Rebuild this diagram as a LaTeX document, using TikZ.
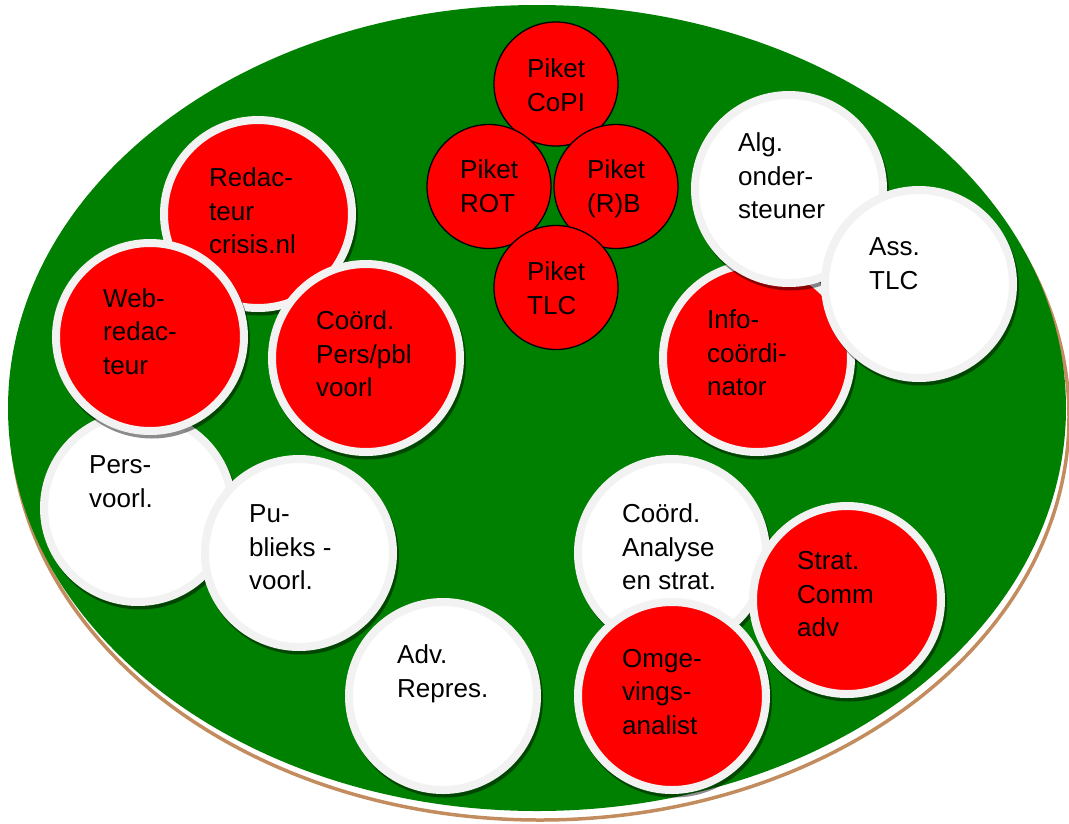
\documentclass[tikz,border=0pt]{standalone}
\usepackage{fontspec}
\setmainfont{Liberation Sans}
\definecolor{ellgreen}{RGB}{0,128,0}
\definecolor{ringc}{RGB}{242,242,242}
\definecolor{brownc}{RGB}{195,140,95}
\definecolor{redc}{RGB}{255,0,0}
\newcommand{\ringcirc}[4]{%
  \fill[shadowc] (#2+2,#3+3.5) circle[radius=98];
  \node[ring, fill=#4] (#1) at (#2,#3) {};
}
\begin{document}
\begin{tikzpicture}[x=1pt,y=-1pt,
  shadowc/.style={fill=black, opacity=0.45},
  ring/.style={circle, draw=ringc, line width=8pt, minimum size=188pt, inner sep=0pt},
  piket/.style={circle, draw=black, line width=1.3pt, fill=redc, minimum size=124pt, inner sep=0pt},
  lbl/.style={font=\fontsize{26}{33.7}\selectfont, align=left, inner sep=0pt, anchor=west, text=black}]
\useasboundingbox (0,0) rectangle (1069,823);
% ellipse with offset brown outline
\draw[brownc, line width=3.5pt] (540,417) ellipse [x radius=529, y radius=403];
\fill[ellgreen] (537,408) ellipse [x radius=529, y radius=403];
% piket circles
\node[piket] (copi) at (556,84) {};
\node[piket] (rot) at (489,186.5) {};
\node[piket] (rb) at (616,186.5) {};
\node[piket] (ptlc) at (556,287.5) {};
\node[lbl] (tcopi) at (527,87.5) {Piket\strut\\CoPI\strut};
\node[lbl] (trot) at (460,188.5) {Piket\strut\\ROT\strut};
\node[lbl] (trb) at (587,188.5) {Piket\strut\\(R)B\strut};
\node[lbl] (tptlc) at (527,291) {Piket\strut\\TLC\strut};
% left group
\ringcirc{redac}{258}{214}{redc}
\node[lbl] (tredac) at (209,213.5) {Redac-\strut\\teur\strut\\crisis.nl\strut};
\ringcirc{pers}{138}{508}{white}
\node[lbl] (tpers) at (89,484) {Pers-\strut\\voorl.\strut};
\ringcirc{publ}{299}{553}{white}
\node[lbl] (tpubl) at (249,549.5) {Pu-\strut\\blieks -\strut\\voorl.\strut};
\ringcirc{web}{150}{337}{redc}
\node[lbl] (tweb) at (103,334) {Web-\strut\\redac-\strut\\teur\strut};
\ringcirc{cpers}{366}{358}{redc}
\node[lbl] (tcpers) at (316,356.5) {Coörd.\strut\\Pers/pbl\strut\\voorl\strut};
\ringcirc{adv}{443}{696}{white}
\node[lbl] (tadv) at (397,673.5) {Adv.\strut\\Repres.\strut};
% right group
\ringcirc{info}{757}{358}{redc}
\node[lbl] (tinfo) at (707,355.5) {Info-\strut\\coördi-\strut\\nator\strut};
\ringcirc{alg}{789}{189}{white}
\node[lbl] (talg) at (738,178.5) {Alg.\strut\\onder-\strut\\steuner\strut};
\ringcirc{ass}{919}{284}{white}
\node[lbl] (tass) at (869,265.5) {Ass.\strut\\TLC\strut};
\ringcirc{cana}{672}{553}{white}
\node[lbl] (tcana) at (622,549.5) {Coörd.\strut\\Analyse\strut\\en strat.\strut};
\ringcirc{omge}{672}{696}{redc}
\node[lbl] (tomge) at (622,694) {Omge-\strut\\vings-\strut\\analist\strut};
\ringcirc{strat}{847}{600}{redc}
\node[lbl] (tstrat) at (797,596.5) {Strat.\strut\\Comm\strut\\adv\strut};
\end{tikzpicture}
\end{document}
